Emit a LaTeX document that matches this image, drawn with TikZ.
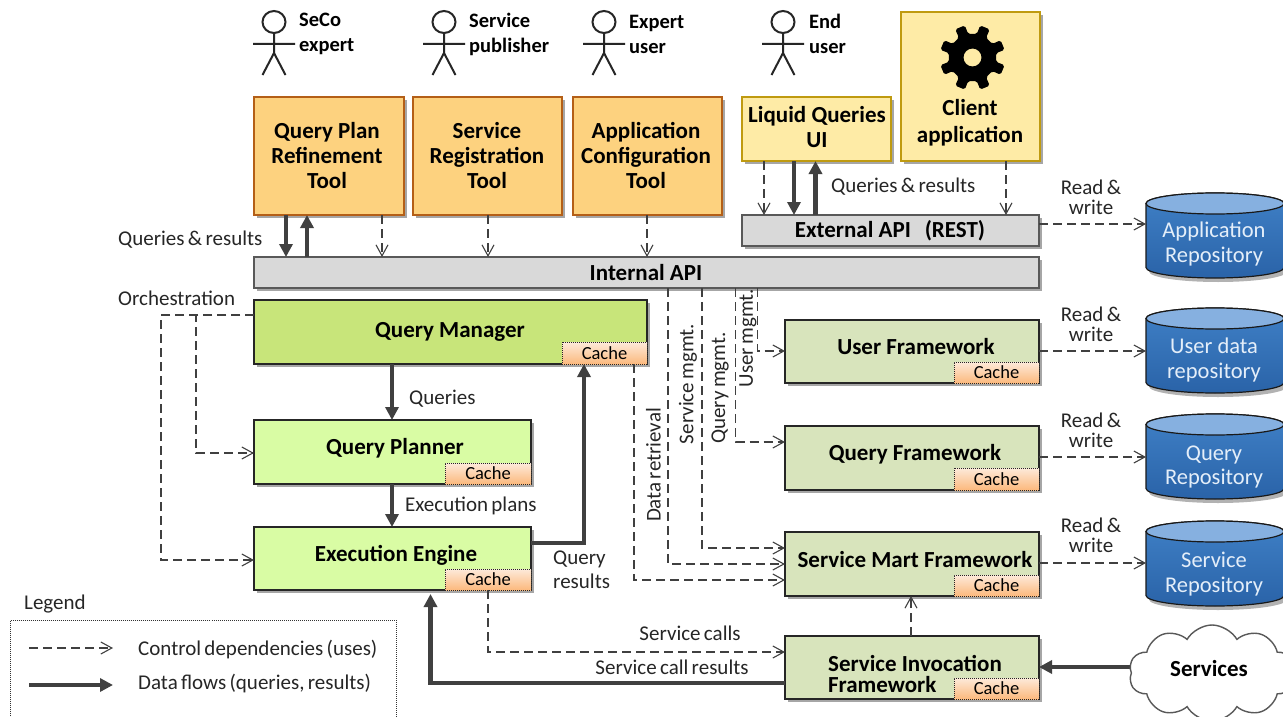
\documentclass[tikz,border=0pt]{standalone}
\usepackage{fontspec}
\setmainfont{Carlito}
\newfontfamily\tightfont[WordSpace=0.7]{Carlito}
\usetikzlibrary{arrows.meta,shadows,shapes.symbols}
\definecolor{ink}{HTML}{404040}
\definecolor{toolline}{HTML}{B45F17}
\definecolor{toolfill}{HTML}{FDD27F}
\definecolor{uiline}{HTML}{BF9A10}
\definecolor{uifill}{HTML}{FEEBA6}
\definecolor{apiline}{HTML}{595959}
\definecolor{apifill}{HTML}{D9D9D9}
\definecolor{mgrfill}{HTML}{C8E57A}
\definecolor{engfill}{HTML}{D9FCA4}
\definecolor{fwfill}{HTML}{D8E4BC}
\definecolor{cachetop}{HTML}{FDEADA}
\definecolor{cachebot}{HTML}{FCB97D}
\definecolor{repotop}{HTML}{86B0E0}
\definecolor{repoa}{HTML}{3F80C6}
\definecolor{repob}{HTML}{2A63A8}
\definecolor{repotext}{HTML}{E4EEF9}
\tikzset{
  base/.style={inner sep=0pt,outer sep=0pt,rectangle,line width=1.2pt,
    drop shadow={shadow xshift=2.5pt,shadow yshift=-3pt,fill=black,opacity=.35}},
  tool/.style={base,draw=toolline,fill=toolfill},
  ui/.style={base,draw=uiline,fill=uifill},
  api/.style={base,draw=apiline,fill=apifill},
  mgr/.style={base,draw=black!85,fill=mgrfill},
  eng/.style={base,draw=black!85,fill=engfill},
  fw/.style={base,draw=black!85,fill=fwfill},
  cachebox/.style={rectangle,inner sep=0pt,outer sep=0pt,draw=black!85,densely dotted,line width=1pt,top color=cachetop,bottom color=cachebot,font=\tightfont\fontsize{18.5}{20}\selectfont},
  bt/.style={inner sep=0pt,align=center,font=\bfseries\fontsize{23}{25}\selectfont,text=black},
  actorlabel/.style={bt,align=left,anchor=west,font=\bfseries\fontsize{20.5}{25}\selectfont},
  lt/.style={inner sep=0pt,align=center,font=\tightfont\fontsize{21}{20}\selectfont,text=black!85},
  rt/.style={lt,rotate=90},
  dep/.style={draw=ink,line width=1.1pt,dash pattern=on 9pt off 5pt,-{Straight Barb[length=11pt,width=12pt,line width=1.1pt]}},
  flow/.style={draw=ink,line width=4.4pt,-{Triangle[length=13pt,width=13pt]}},
  repobody/.style={inner sep=0pt,outer sep=0pt,rectangle},
}
% name, style, x, y, w, h, text x, text y, text
\newcommand\comp[9]{%
  \node[#2,minimum width=#5pt,minimum height=#6pt,anchor=north west] (#1) at (#3,#4) {};
  \node[bt] (#1-text) at (#7,#8) {#9};}
% name, parent, w, h
\newcommand\cachein[4]{\node[cachebox,minimum width=#3pt,minimum height=#4pt,anchor=south east] (#1) at (#2.south east) {Cache};}
% head x position
\newcommand\actor[1]{%
  \draw[line width=2pt,draw=black!85] (#1,22) ellipse [x radius=11.5pt,y radius=11pt];
  \draw[line width=2pt,draw=black!85] (#1,33) -- (#1,53) (#1-21,44) -- (#1+21,44) (#1-11.5,75) -- (#1,53) -- (#1+11.5,75);}
% name, top y, bottom y, text, text y
\newcommand\repo[5]{%
  \path[fill=black,opacity=.3] (1149,#2+10.5) -- (1149,#3-6.5) arc[start angle=180,end angle=360,x radius=69pt,y radius=10.5pt] -- (1287,#2+10.5) -- cycle;
  \draw[draw=black!90,line width=1.2pt,top color=repoa,bottom color=repob]
    (1146,#2+10.5) -- (1146,#3-10.5) arc[start angle=180,end angle=360,x radius=69pt,y radius=10.5pt] -- (1284,#2+10.5) arc[start angle=0,end angle=180,x radius=69pt,y radius=10.5pt] -- cycle;
  \draw[draw=black!90,line width=1.2pt,fill=repotop] (1215,#2+10.5) ellipse [x radius=69pt,y radius=10.5pt];
  \node[repobody,minimum width=138pt,minimum height=#3pt-#2pt,anchor=north west] (#1) at (1146,#2) {};
  \node[bt,font=\fontsize{22.5}{24.5}\selectfont,text=repotext] (#1-text) at (1214,#5) {#4};}
\begin{document}
\begin{tikzpicture}[x=1pt,y=-1pt]
\clip (0,0) rectangle (1283,717);
\fill[white] (0,0) rectangle (1283,717);

% actors
\actor{274}\actor{444}\actor{604}\actor{783}
\node[actorlabel] (a1) at (299,34) {SeCo\\expert};
\node[actorlabel] (a2) at (469,34) {Service\\publisher};
\node[actorlabel] (a3) at (629,34) {Expert\\user};
\node[actorlabel] (a4) at (809,34) {End\\user};

% tools
\comp{qprt}{tool}{254}{97}{150}{118}{327}{156}{Query Plan\\Refinement\\Tool}
\comp{srt}{tool}{413}{97}{149}{118}{487}{156}{Service\\Registration\\Tool}
\comp{act}{tool}{573}{97}{149}{118}{646}{155}{Application\\Configuration\\Tool}
\comp{lq}{ui}{742}{97}{149}{64}{817}{127.5}{Liquid Queries\\UI}
\comp{client}{ui}{901}{12}{139}{149}{970}{122.5}{Client\\[2pt]application}

% gear
\begin{scope}[shift={(972.5,57.5)}]
\fill[black,even odd rule,rounded corners=1.8pt]
  (10.5:24) \foreach \a in {22.5,67.5,...,337.5} { -- (\a-12:24) -- (\a-9:33) -- (\a+9:33) -- (\a+12:24) } -- cycle
  (0,0) circle[radius=9pt];
\end{scope}

% APIs
\comp{eapi}{api}{742}{215}{297}{31}{890}{230.5}{External API\hspace{.6em}(REST)}
\comp{iapi}{api}{254}{257}{785}{31}{646}{272.5}{Internal API}

% core
\comp{qm}{mgr}{254}{300}{393}{64}{450}{332}{Query Manager}
\cachein{qmc}{qm}{85}{22}
\comp{qp}{eng}{254}{420}{277}{64}{395}{448}{Query Planner}
\cachein{qpc}{qp}{86}{21}
\comp{ee}{eng}{254}{527}{277}{63}{396}{555}{Execution Engine}
\cachein{eec}{ee}{86}{21}

% frameworks
\comp{uf}{fw}{785}{320}{254}{63}{916}{347}{User Framework}
\cachein{ufc}{uf}{85}{21}
\comp{qf}{fw}{785}{426}{254}{64}{915}{454}{Query Framework}
\cachein{qfc}{qf}{85}{22}
\comp{smf}{fw}{785}{532}{254}{64}{915}{559.5}{Service Mart Framework}
\cachein{smfc}{smf}{85}{21}
\comp{sif}{fw}{785}{636}{254}{63}{915}{677}{\begin{tabular}{@{}l@{}}Service Invocation\\[-4pt]Framework\end{tabular}}
\cachein{sifc}{sif}{85}{21}

% repositories
\repo{apr}{193}{278}{Application\\Repository}{244}
\repo{upr}{308}{393}{User data\\repository}{360}
\repo{qpr}{414}{499}{Query\\Repository}{467}
\repo{spr}{521}{606}{Service\\Repository}{574}

% connectors: tools and APIs
\draw[flow] ([xshift=32pt]qprt.south west) -- ([xshift=32pt]iapi.north west);
\draw[flow] ([xshift=53pt]iapi.north west) -- ([xshift=53pt]qprt.south west);
\draw[dep] ([xshift=128pt]qprt.south west) -- ([xshift=128pt]iapi.north west);
\draw[dep] ([xshift=75pt]srt.south west) -- ([xshift=234pt]iapi.north west);
\draw[dep] ([xshift=74pt]act.south west) -- ([xshift=393pt]iapi.north west);
\draw[dep] ([xshift=22pt]lq.south west) -- ([xshift=22pt]eapi.north west);
\draw[flow] ([xshift=52pt]lq.south west) -- ([xshift=52pt]eapi.north west);
\draw[flow] ([xshift=73.5pt]eapi.north west) -- ([xshift=73.5pt]lq.south west);
\draw[dep] ([xshift=105pt]client.south west) -- ([xshift=264pt]eapi.north west);

% read & write
\draw[dep] ([yshift=-9pt]eapi.north east) -- ([yshift=-31pt]apr.north west);
\draw[dep] ([yshift=-31pt]uf.north east) -- ([yshift=-43pt]upr.north west);
\draw[dep] ([yshift=-31pt]qf.north east) -- ([yshift=-43pt]qpr.north west);
\draw[dep] ([yshift=-31pt]smf.north east) -- ([yshift=-42pt]spr.north west);

% orchestration
\draw[dep] ([yshift=-15pt]qm.north west) -- ++(-93,0) |- ([yshift=-33pt]ee.north west);
\draw[dep] ([yshift=-15pt]qm.north west) -- ++(-58,0) |- ([yshift=-33pt]qp.north west);

% core flows
\draw[flow] ([xshift=138pt]qm.south west) -- ([xshift=138pt]qp.north west);
\draw[flow] ([xshift=138pt]qp.south west) -- ([xshift=138pt]ee.north west);
\draw[flow] ([yshift=-16pt]ee.north east) -| ([xshift=22pt]qmc.south west);
\draw[dep] (eec.south) |- ([yshift=-16pt]sif.north west);
\draw[flow] ([yshift=-47pt]sif.north west) -| ([shift={(176.5pt,-4pt)}]ee.south west);

% management lines
\draw[dep] ([xshift=72pt]qmc.south west) |- ([yshift=-48pt]smf.north west);
\draw[dep] ([xshift=414pt]iapi.south west) |- ([yshift=-32pt]smf.north west);
\draw[dep] ([xshift=448pt]iapi.south west) |- ([yshift=-16pt]smf.north west);
\draw[dep] ([xshift=481.5pt]iapi.south west) |- ([yshift=-16pt]qf.north west);
\draw[dep] ([xshift=503.5pt]iapi.south west) |- ([yshift=-31pt]uf.north west);
\draw[dep] ([xshift=126pt]sif.north west) -- ([xshift=126pt]smf.south west);

% services cloud
\draw[flow] (1140,667) -- ([yshift=-31pt]sif.north east);
\node[cloud,cloud puffs=10,cloud puff arc=120,aspect=1.7,draw=black!65,line width=1.4pt,fill=white,minimum width=166pt,minimum height=96pt,inner sep=0pt,outer sep=0pt] (svc) at (1212,673) {};
\node[bt] (svct) at (1209,669) {Services};

% labels
\node[lt,anchor=west] (l1) at (118,240) {Queries \& results};
\node[lt,anchor=west] (l2) at (118,298) {Orchestration};
\node[lt,anchor=west] (l3) at (831,187) {Queries \& results};
\node[lt,anchor=west] (l4) at (409,399) {Queries};
\node[lt,anchor=west] (l5) at (405,506) {Execution plans};
\node[lt,anchor=west,align=left,font=\tightfont\fontsize{21}{24}\selectfont] (l6) at (553,569.5) {Query\\results};
\node[lt] (l7) at (690,633) {Service calls};
\node[lt] (l8) at (672,667) {Service call results};
\node[lt] (rw1) at (1091,197.5) {Read \&\\write};
\node[lt] (rw2) at (1091,324.5) {Read \&\\write};
\node[lt] (rw3) at (1091,430.5) {Read \&\\write};
\node[lt] (rw4) at (1091,535.5) {Read \&\\write};
\node[rt] (m1) at (653.5,465) {Data retrieval};
\node[rt] (m2) at (688,384) {Service mgmt.};
\node[rt] (m3) at (720,388) {Query mgmt.};
\node[rt] (m4) at (748,338) {User mgmt.};

% legend
\node[lt,anchor=west] (lg) at (24,604) {Legend};
\node[rectangle,draw=black!80,densely dotted,line width=1pt,minimum width=386pt,minimum height=120pt,anchor=north west,inner sep=0pt] (lbox) at (10,620) {};
\coordinate (la) at ([shift={(19pt,-28pt)}]lbox.north west);
\coordinate (lb) at ([shift={(103pt,-28pt)}]lbox.north west);
\coordinate (lc) at ([shift={(19pt,-65pt)}]lbox.north west);
\coordinate (ld) at ([shift={(103pt,-65pt)}]lbox.north west);
\draw[dep] (la) -- (lb);
\draw[flow] (lc) -- (ld);
\node[lt,anchor=west] (lt1) at (138,650) {Control dependencies (uses)};
\node[lt,anchor=west] (lt2) at (138,684) {Data flows (queries, results)};
\end{tikzpicture}
\end{document}
